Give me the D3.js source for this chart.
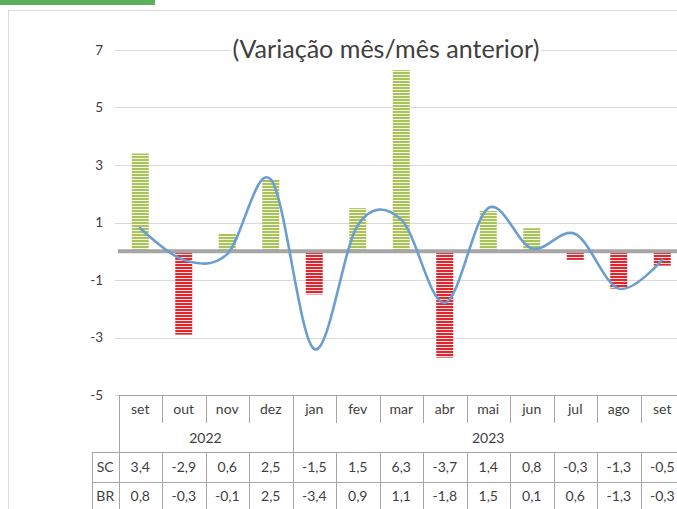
<!DOCTYPE html>
<html><head><meta charset="utf-8">
<script src="https://cdn.jsdelivr.net/npm/d3@7"></script>
<style>
html,body{margin:0;padding:0;background:#fff;overflow:hidden}
svg{display:block}
text{font-family:Lato,"Open Sans",sans-serif;fill:#404040}
</style></head>
<body>
<svg id="c" width="677" height="509"></svg>
<script>
const months = ["set","out","nov","dez","jan","fev","mar","abr","mai","jun","jul","ago","set"];
const years = [{label:"2022", start:0, end:4},{label:"2023", start:4, end:13}];
const scValues = [3.4,-2.9,0.6,2.5,-1.5,1.5,6.3,-3.7,1.4,0.8,-0.3,-1.3,-0.5];
const brValues = [0.8,-0.3,-0.1,2.5,-3.4,0.9,1.1,-1.8,1.5,0.1,0.6,-1.3,-0.3];
const yTicks = [7,5,3,1,-1,-3,-5];
const seriesNames = ["SC","BR"];
const title = "(Variação mês/mês anterior)";

(function(){
const svg = d3.select("#c");
const fmt = v => String(v).replace(".", ",");

svg.append("rect").attr("x",0).attr("y",0).attr("width",155).attr("height",5).attr("fill","#5cb25a");
svg.append("rect").attr("x",8.5).attr("y",10.5).attr("width",700).attr("height",520)
  .attr("fill","none").attr("stroke","#d9d9d9");

const idx = months.map((m,i)=>i);
const x = d3.scaleBand().domain(idx).range([118.5, 118.5+13*43.5]).padding(0);
const y = d3.scaleLinear().domain([-5,7]).range([395,50]);

const defs = svg.append("defs");
function stripe(id, bg, fg){
  const p = defs.append("pattern").attr("id",id).attr("patternUnits","userSpaceOnUse")
    .attr("width",4).attr("height",3);
  p.append("rect").attr("width",4).attr("height",3).attr("fill",bg);
  p.append("rect").attr("y",0).attr("width",4).attr("height",2).attr("fill",fg);
}
stripe("pg","#f3f6e2","#a9c25a");
stripe("pr","#fbe3e3","#e0262c");

svg.append("g").selectAll("line").data(yTicks).join("line")
  .attr("x1",115).attr("x2",677).attr("y1",d=>Math.round(y(d))+0.5).attr("y2",d=>Math.round(y(d))+0.5)
  .attr("stroke","#d9d9d9").attr("stroke-width",1);

const yAxis = d3.axisLeft(y).tickValues(yTicks).tickSize(0).tickPadding(0).tickFormat(d=>fmt(d));
const ga = svg.append("g").attr("transform","translate(103,0)").call(yAxis);
ga.select(".domain").remove();
ga.selectAll("text").style("font-family","Lato,'Open Sans',sans-serif").style("font-size","13.5px").attr("fill","#404040");

const bw = 17;
svg.append("g").selectAll("rect").data(scValues).join("rect")
  .attr("x",(d,i)=>x(i)+x.bandwidth()/2-bw/2)
  .attr("width",bw)
  .attr("y",d=>y(Math.max(0,d)))
  .attr("height",d=>Math.abs(y(d)-y(0)))
  .attr("fill",d=>d>=0?"url(#pg)":"url(#pr)");

svg.append("line").attr("x1",118).attr("x2",677).attr("y1",y(0)).attr("y2",y(0))
  .attr("stroke","#a6a6a6").attr("stroke-width",4);

const line = d3.line().x((d,i)=>x(i)+x.bandwidth()/2).y(d=>y(d)).curve(d3.curveCatmullRom.alpha(0));
svg.append("path").datum(brValues).attr("d",line).attr("fill","none")
  .attr("stroke","#6a9ed0").attr("stroke-width",2.6).attr("stroke-linecap","round");

const tg = svg.append("g");
const tbg = tg.append("rect").attr("fill","#fff");
const tt = tg.append("text").attr("x",386).attr("y",58).attr("text-anchor","middle")
  .style("font-size","22px").text(title);
let w = tt.node().getComputedTextLength();
const fs = 22*307/w;
tt.style("font-size",fs+"px");
w = tt.node().getComputedTextLength();
tbg.attr("x",386-w/2-2).attr("y",40).attr("width",w+4).attr("height",22);

const tb = svg.append("g").attr("stroke","#a6a6a6").attr("stroke-width",1);
const tTop = 395, r1 = 423, r2 = 452, r3 = 482, bot = 512;
const L = 92;
const xe = i => Math.round(x(i))+0.5;
tb.append("line").attr("x1",118.5).attr("x2",677).attr("y1",tTop+0.5).attr("y2",tTop+0.5);
tb.append("line").attr("x1",xe(0)).attr("x2",xe(0)).attr("y1",tTop).attr("y2",bot);
tb.append("line").attr("x1",L+0.5).attr("x2",L+0.5).attr("y1",r2).attr("y2",bot);
for(let i=1;i<13;i++){
  const isYear = years.some(yy=>yy.start===i);
  tb.append("line").attr("x1",xe(i)).attr("x2",xe(i)).attr("y1",tTop).attr("y2",isYear?bot:r1);
  if(!isYear) tb.append("line").attr("x1",xe(i)).attr("x2",xe(i)).attr("y1",r2).attr("y2",bot);
}
tb.append("line").attr("x1",L).attr("x2",677).attr("y1",r2+0.5).attr("y2",r2+0.5);
tb.append("line").attr("x1",L).attr("x2",677).attr("y1",r3+0.5).attr("y2",r3+0.5);

const tt2 = svg.append("g").style("font-size","14px").attr("text-anchor","middle");
tt2.selectAll("text.m").data(months).join("text").attr("class","m")
  .attr("x",(d,i)=>x(i)+x.bandwidth()/2).attr("y",414).text(d=>d);
tt2.selectAll("text.y").data(years).join("text").attr("class","y")
  .attr("x",d=>(x(d.start)+x(d.end-1)+x.bandwidth())/2).attr("y",443).text(d=>d.label);
[scValues, brValues].forEach((arr,k)=>{
  const yy = k===0?472:501;
  tt2.append("text").attr("x",(L+x(0))/2).attr("y",yy).text(seriesNames[k]);
  tt2.selectAll("text.v"+k).data(arr).join("text").attr("class","v"+k)
    .attr("x",(d,i)=>x(i)+x.bandwidth()/2).attr("y",yy).text(d=>fmt(d));
});
})();
</script>
</body></html>
